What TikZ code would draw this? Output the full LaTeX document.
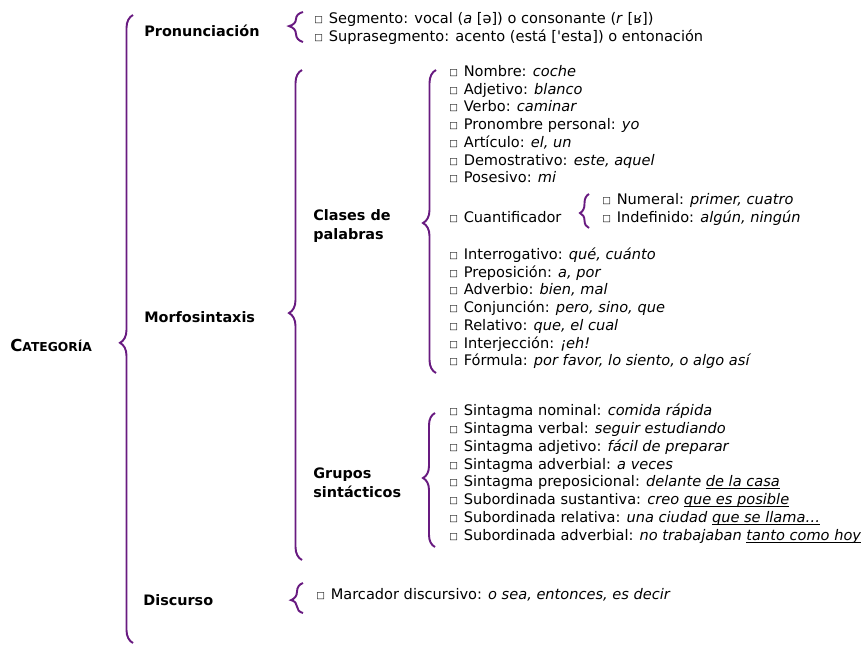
\documentclass[tikz,border=0pt]{standalone}
\usepackage{fontspec}
\setmainfont{DejaVu Sans}[Ligatures=TeXOff]
\usetikzlibrary{calc,positioning,decorations.pathreplacing}

\definecolor{brcpurple}{RGB}{104,26,128}
\newcommand{\bx}{{\fontsize{5.2}{5}\selectfont\raisebox{.2ex}{□}}\hspace{3.3pt}}
\newcommand{\ulx}[1]{\setbox0\hbox{#1}\rlap{\rule[-1.3pt]{\wd0}{0.45pt}}\box0}

\begin{document}
\begin{tikzpicture}[x=0.02cm,y=-0.02cm,
    brc/.style={draw=brcpurple,line width=1.1pt,decorate,decoration={brace,amplitude=#1*0.02cm}},
    brc/.default=13,
    head/.style={font=\fontsize{8.2}{10.8}\selectfont\bfseries,anchor=west,inner sep=0pt,align=left},
    item/.style={font=\fontsize{8.3}{10}\selectfont,anchor=west,inner sep=0pt,text height=1.6ex,text depth=.45ex}]

  \useasboundingbox (0,0) rectangle (865,650);

  % headings
  \node (cat) [head] at (10,345) {{\fontsize{9.4}{12}\selectfont C}{\fontsize{7}{12}\selectfont ATEGORÍA}};
  \node (pron) [head] at (144,31) {Pronunciación};
  \node (morf) [head] at (144,317) {Morfosintaxis};
  \node (disc) [head] at (143,600) {Discurso};
  \node (clases) [head] at (313,226) {Clases de\\palabras};
  \node (grupos) [head] at (313,483) {Grupos\\sintácticos};

  % braces
  \draw[brc,decoration={aspect=0.478}] (133,643) -- (133,15);
  \draw[brc=14,decoration={aspect=0.53}] (303,42) -- (303,12);
  \draw[brc,decoration={aspect=0.504}] (302,560) -- (302,70);
  \draw[brc=12,decoration={aspect=0.43}] (303,613) -- (303,583);
  \draw[brc,decoration={aspect=0.495}] (436,373) -- (436,70);
  \draw[brc=9,decoration={aspect=0.44}] (589,228) -- (589,194);
  \draw[brc=12,decoration={aspect=0.515}] (435,547) -- (435,413);

  % pronunciacion
  \node (pron_0) [item] at (314,18) {\bx Segmento: vocal (\textit{a} [ə]) o consonante (\textit{r} [ʁ])};
  \node (pron_1) [item] at (314,36) {\bx Suprasegmento: acento (está ['esta]) o entonación};

  % clases de palabras
  \foreach \txt [count=\i from 0] in {{Nombre: \textit{coche}},{Adjetivo: \textit{blanco}},
      {Verbo: \textit{caminar}},{Pronombre personal: \textit{yo}},{Artículo: \textit{el, un}},
      {Demostrativo: \textit{este, aquel}},{Posesivo: \textit{mi}}}
    \node (cls_\i) [item] at (449,{71+17.7*\i}) {\bx\txt};

  \node (cuant) [item] at (449,217) {\bx Cuantificador};
  \node (cuant_0) [item] at (602,199) {\bx Numeral: \textit{primer, cuatro}};
  \node (cuant_1) [item] at (602,217) {\bx Indefinido: \textit{algún, ningún}};

  \foreach \txt [count=\i from 7] in {{Interrogativo: \textit{qué, cuánto}},{Preposición: \textit{a, por}},
      {Adverbio: \textit{bien, mal}},{Conjunción: \textit{pero, sino, que}},{Relativo: \textit{que, el cual}},
      {Interjección: \textit{¡eh!}},{Fórmula: \textit{por favor, lo siento, o algo así}}}
    \node (cls_\i) [item] at (449,{254+17.7*(\i-7)}) {\bx\txt};

  % grupos sintacticos
  \foreach \txt [count=\i from 0] in {{Sintagma nominal: \textit{comida rápida}},
      {Sintagma verbal: \textit{seguir estudiando}},{Sintagma adjetivo: \textit{fácil de preparar}},
      {Sintagma adverbial: \textit{a veces}},{Sintagma preposicional: \textit{delante \ulx{de la casa}}},
      {Subordinada sustantiva: \textit{creo \ulx{que es posible}}},
      {Subordinada relativa: \textit{una ciudad \ulx{que se llama…}}},
      {Subordinada adverbial: \textit{no trabajaban \ulx{tanto como hoy}}}}
    \node (grp_\i) [item] at (449,{410+17.85*\i}) {\bx\txt};

  % discurso
  \node (disc_0) [item] at (316,594) {\bx Marcador discursivo: \textit{o sea, entonces, es decir}};

\end{tikzpicture}
\end{document}
